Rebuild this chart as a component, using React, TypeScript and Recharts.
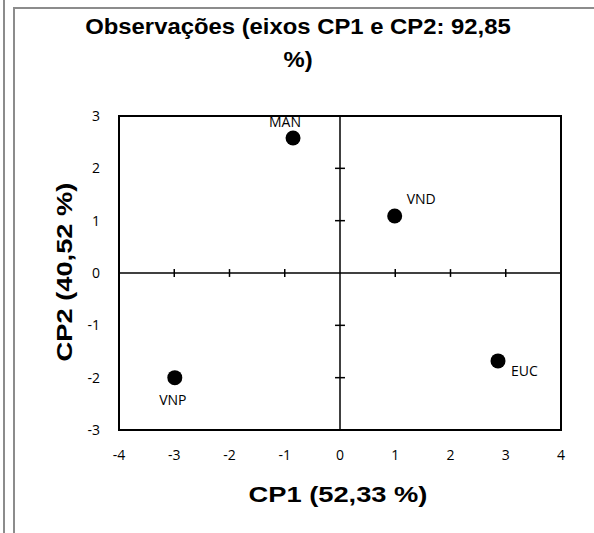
import React from "react";
import {
  ScatterChart,
  Scatter,
  XAxis,
  YAxis,
  ReferenceLine,
  ReferenceArea,
  LabelList,
} from "recharts";

const names = ["MAN", "VND", "VNP", "EUC"];
const cp1 = [-0.85, 0.99, -2.99, 2.86];
const cp2 = [2.58, 1.09, -2.0, -1.68];
const xTicks = [-4, -3, -2, -1, 0, 1, 2, 3, 4];
const yTicks = [-3, -2, -1, 0, 1, 2, 3];
const titleLine1 = "Observações (eixos CP1 e CP2: 92,85";
const titleLine2 = "%)";
const xTitle = "CP1 (52,33 %)";
const yTitle = "CP2 (40,52 %)";

const data = names.map((n, i) => ({ name: n, x: cp1[i], y: cp2[i] }));

const labelPlacement: Record<string, { dx: number; dy: number; anchor: string }> = {
  MAN: { dx: -8, dy: -15, anchor: "middle" },
  VND: { dx: 12, dy: -16, anchor: "start" },
  VNP: { dx: -2, dy: 24, anchor: "middle" },
  EUC: { dx: 13, dy: 11, anchor: "start" },
};

const tickFont = { fontFamily: "'Open Sans', 'Liberation Sans', sans-serif", fontSize: 14, fill: "#000" };

const renderLabel = (props: any) => {
  const { x, y, width, height, value } = props;
  const cx = x + width / 2;
  const cy = y + height / 2;
  const p = labelPlacement[value] || { dx: 0, dy: -12, anchor: "middle" };
  return (
    <text
      x={cx + p.dx}
      y={cy + p.dy}
      textAnchor={p.anchor as any}
      dominantBaseline="middle"
      style={{ ...tickFont, fontSize: 14 }}
      fill="#000"
    >
      {value}
    </text>
  );
};

const renderDot = (props: any) => {
  const { cx, cy } = props;
  return <circle cx={cx} cy={cy} r={7.5} fill="#000" />;
};

const boldFont = "'Liberation Sans', Arial, sans-serif";

export default function App() {
  const xTickMarks = xTicks.filter((t) => t !== 0 && Math.abs(t) !== 4);
  const yTickMarks = yTicks.filter((t) => t !== 0 && Math.abs(t) !== 3);
  return (
    <div style={{ position: "absolute", left: 0, top: 0, width: 594, height: 533, background: "#fff" }}>
      <div style={{ position: "absolute", left: 3, top: 0, width: 2, height: 533, background: "#8c8c8c" }} />
      <div style={{ position: "absolute", left: 13, top: 8, width: 2, height: 525, background: "#8c8c8c" }} />
      <div style={{ position: "absolute", left: 13, top: 7, width: 581, height: 2, background: "#8c8c8c" }} />
      <div
        style={{
          position: "absolute",
          left: 0,
          width: 596,
          top: 10,
          textAlign: "center",
          fontFamily: boldFont,
          fontWeight: "bold",
          fontSize: 22.5,
          lineHeight: "33px",
          color: "#000",
          transform: "scaleX(1.06)",
          transformOrigin: "298px 0",
        }}
      >
        <div>{titleLine1}</div>
        <div>{titleLine2}</div>
      </div>
      <div
        style={{
          position: "absolute",
          left: 338 - 150,
          width: 300,
          top: 481,
          textAlign: "center",
          fontFamily: boldFont,
          fontWeight: "bold",
          fontSize: 22,
          lineHeight: "28px",
          color: "#000",
          transform: "scaleX(1.24)",
        }}
      >
        {xTitle}
      </div>
      <div
        style={{
          position: "absolute",
          left: 65 - 150,
          width: 300,
          top: 272 - 14,
          textAlign: "center",
          transform: "rotate(-90deg) scaleX(1.24)",
          fontFamily: boldFont,
          fontWeight: "bold",
          fontSize: 22,
          lineHeight: "28px",
          color: "#000",
        }}
      >
        {yTitle}
      </div>
      <div style={{ position: "absolute", left: 0, top: 0 }}>
        <ScatterChart width={594} height={533} margin={{ top: 116, right: 33, bottom: 73, left: 59 }}>
          <XAxis
            type="number"
            dataKey="x"
            domain={[-4, 4]}
            ticks={xTicks}
            axisLine={false}
            tickLine={false}
            tickSize={0}
            tickMargin={20}
            height={30}
            tick={tickFont}
            allowDataOverflow
          />
          <YAxis
            type="number"
            dataKey="y"
            domain={[-3, 3]}
            ticks={yTicks}
            axisLine={false}
            tickLine={false}
            tickSize={0}
            tickMargin={19}
            width={60}
            tick={tickFont}
            allowDataOverflow
          />
          <ReferenceArea x1={-4} x2={4} y1={-3} y2={3} fill="none" stroke="#000" strokeWidth={2} />
          <ReferenceLine x={0} stroke="#000" strokeWidth={1.5} />
          <ReferenceLine y={0} stroke="#000" strokeWidth={1.5} />
          {xTickMarks.map((t) => (
            <ReferenceLine
              key={"xt" + t}
              segment={[
                { x: t, y: -0.075 },
                { x: t, y: 0.075 },
              ]}
              stroke="#000"
              strokeWidth={1.5}
            />
          ))}
          {yTickMarks.map((t) => (
            <ReferenceLine
              key={"yt" + t}
              segment={[
                { x: -0.09, y: t },
                { x: 0.09, y: t },
              ]}
              stroke="#000"
              strokeWidth={1.5}
            />
          ))}
          <Scatter data={data} fill="#000" shape={renderDot} isAnimationActive={false}>
            <LabelList dataKey="name" content={renderLabel} />
          </Scatter>
        </ScatterChart>
      </div>
    </div>
  );
}
